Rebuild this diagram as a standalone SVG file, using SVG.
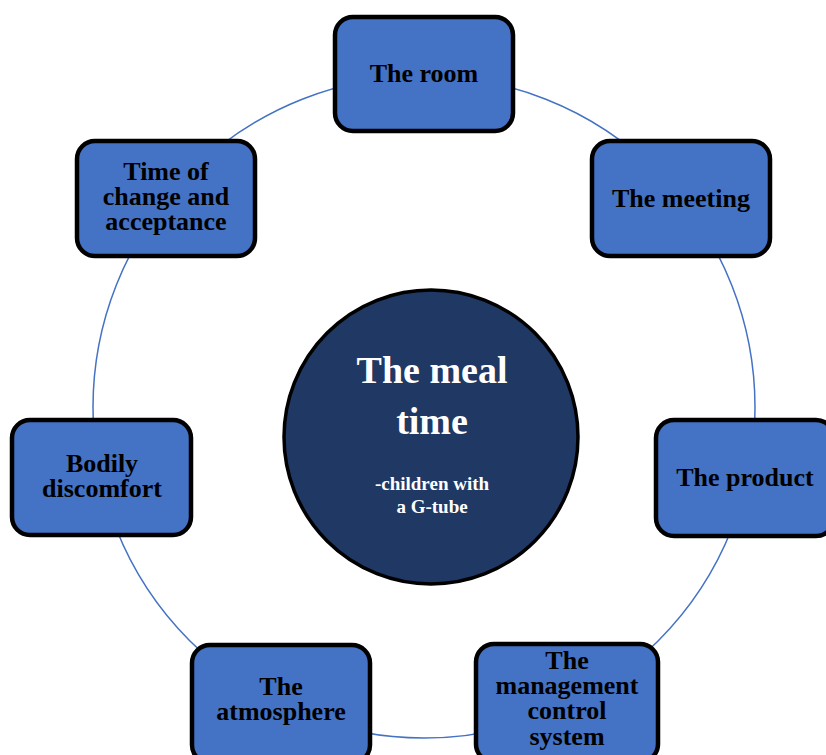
<svg xmlns="http://www.w3.org/2000/svg" width="826" height="755" viewBox="0 0 826 755">
<style>
.box{fill:#4472C4;stroke:#000;stroke-width:4.5}
.lbl{font-family:"Liberation Serif","Times New Roman",serif;font-weight:bold;font-size:26px;fill:#000;text-anchor:middle}
.ctr{font-family:"Liberation Serif","Times New Roman",serif;font-weight:bold;fill:#fff;text-anchor:middle}
</style>
<rect width="826" height="755" fill="#fff"/>
<g id="connectors">
<circle cx="424" cy="407" r="331" fill="none" stroke="#4472C4" stroke-width="1.5"/>
</g>
<g id="room"><rect class="box" x="335" y="17" width="178" height="114" rx="18"/><text class="lbl" x="424" y="82">The room</text></g>
<g id="meeting"><rect class="box" x="592" y="141" width="178" height="115" rx="18"/><text class="lbl" x="681" y="207">The meeting</text></g>
<g id="product"><rect class="box" x="656" y="420" width="178" height="116" rx="18"/><text class="lbl" x="745" y="486">The product</text></g>
<g id="management"><rect class="box" x="476" y="644" width="182" height="118" rx="18"/><text class="lbl" x="567" y="669">The</text><text class="lbl" x="567" y="694">management</text><text class="lbl" x="567" y="719">control</text><text class="lbl" x="567" y="745">system</text></g>
<g id="atmosphere"><rect class="box" x="192" y="645" width="178" height="118" rx="18"/><text class="lbl" x="281" y="695">The</text><text class="lbl" x="281" y="720">atmosphere</text></g>
<g id="bodily"><rect class="box" x="12" y="420" width="179" height="115" rx="18"/><text class="lbl" x="102" y="472">Bodily</text><text class="lbl" x="102" y="497">discomfort</text></g>
<g id="time"><rect class="box" x="77" y="141" width="178" height="115" rx="18"/><text class="lbl" x="166" y="180">Time of</text><text class="lbl" x="166" y="205">change and</text><text class="lbl" x="166" y="230">acceptance</text></g>
<g id="center"><circle cx="431" cy="437" r="147" fill="#1F3864" stroke="#000" stroke-width="3.5"/>
<text class="ctr" x="432" y="383" font-size="38">The meal</text>
<text class="ctr" x="432" y="434" font-size="38">time</text>
<text class="ctr" x="432" y="490" font-size="19">-children with</text>
<text class="ctr" x="432" y="513" font-size="19">a G-tube</text></g>
</svg>
